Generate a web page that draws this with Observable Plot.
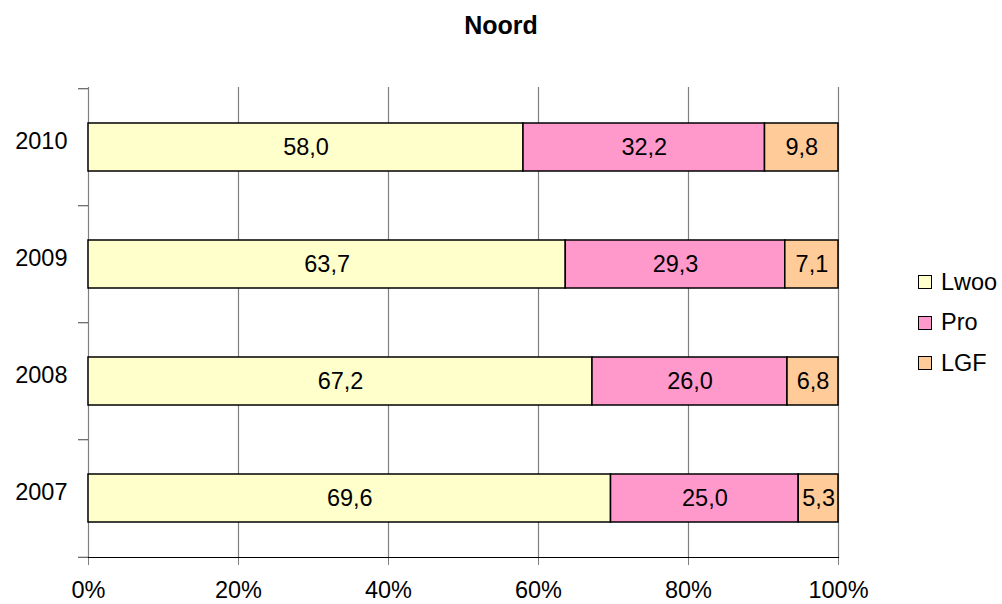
<!DOCTYPE html>
<html>
<head>
<meta charset="utf-8">
<script src="https://cdn.jsdelivr.net/npm/d3@7"></script>
<script src="https://cdn.jsdelivr.net/npm/@observablehq/plot@0.6"></script>
<style>
  html, body { margin: 0; padding: 0; background: #fff; }
  #wrap { position: relative; width: 1002px; height: 604px; font-family: "Liberation Sans", Arial, sans-serif; }
  #title { position: absolute; left: 0; width: 1002px; top: 11px; text-align: center; font-weight: bold; font-size: 25px; }
  #legend { position: absolute; left: 918px; top: 262px; font-size: 23.5px; }
  .item { display: flex; align-items: center; height: 40.5px; }
  .sw { width: 12px; height: 12px; border: 1.5px solid #000; margin-right: 9px; box-sizing: content-box; }
</style>
</head>
<body>
<div id="wrap">
  <div id="title"></div>
  <div id="chart"></div>
  <div id="legend"></div>
</div>
<script>
const title = "Noord";
const years = ["2007", "2008", "2009", "2010"];
const categories = ["Lwoo", "Pro", "LGF"];
const colors = ["#FFFFCC", "#FF99CC", "#FFCC99"];
const lwoo = [69.6, 67.2, 63.7, 58.0];
const pro = [25.0, 26.0, 29.3, 32.2];
const lgf = [5.3, 6.8, 7.1, 9.8];
const xTicks = [0, 0.2, 0.4, 0.6, 0.8, 1];

const series = [lwoo, pro, lgf];
const data = [];
years.forEach((y, i) => categories.forEach((c, j) => data.push({year: y, cat: c, value: series[j][i]})));

document.getElementById("title").textContent = title;

const marginTop = 87, marginBottom = 47;
const H = 604;
const step = (H - marginTop - marginBottom) / years.length;

const fmt = v => v.toFixed(1).replace(".", ",");

const chart = Plot.plot({
  width: 1002,
  height: H,
  marginLeft: 88,
  marginRight: 164,
  marginTop,
  marginBottom,
  style: {fontFamily: "Liberation Sans, Arial, sans-serif", fontSize: "23.5px", color: "#000", background: "#fff", overflow: "visible"},
  x: {domain: [0, 1]},
  y: {domain: years.slice().reverse(), paddingInner: 0.59, paddingOuter: 0.295},
  color: {domain: categories, range: colors},
  marks: [
    Plot.ruleX(xTicks.slice(1), {stroke: "#808080", strokeWidth: 1.2, strokeOpacity: 1}),
    Plot.ruleX([0], {stroke: "#808080", strokeWidth: 1.2, strokeOpacity: 1}),
    Plot.axisX({ticks: xTicks, tickFormat: d => Math.round(d * 100) + "%", tickSize: 8, tickPadding: 16, stroke: "#808080", strokeOpacity: 1, label: null, fontSize: 23.5}),
    Plot.axisY({tickSize: 0, tickPadding: 21, label: null, fontSize: 23.5, dy: -6}),
    Plot.axisY(years, {tickSize: 10, text: null, label: null, dy: -step / 2, stroke: "#404040", strokeOpacity: 1}),
    Plot.axisY([years[0]], {tickSize: 10, text: null, label: null, dy: step / 2, stroke: "#404040", strokeOpacity: 1}),
    Plot.frame({anchor: "bottom", stroke: "#000", strokeWidth: 1.2}),
    Plot.barX(data, Plot.stackX({x: "value", y: "year", fill: "cat", order: categories, offset: "normalize", stroke: "#000", strokeWidth: 1.5})),
    Plot.text(data, Plot.stackX({x: "value", y: "year", z: "cat", order: categories, offset: "normalize", text: d => fmt(d.value), fill: "#000", fontSize: 23.5}))
  ]
});
document.getElementById("chart").appendChild(chart);

const legend = document.getElementById("legend");
categories.forEach((c, i) => {
  const row = document.createElement("div");
  row.className = "item";
  const sw = document.createElement("span");
  sw.className = "sw";
  sw.style.background = colors[i];
  const t = document.createElement("span");
  t.textContent = c;
  row.appendChild(sw); row.appendChild(t);
  legend.appendChild(row);
});
</script>
</body>
</html>
